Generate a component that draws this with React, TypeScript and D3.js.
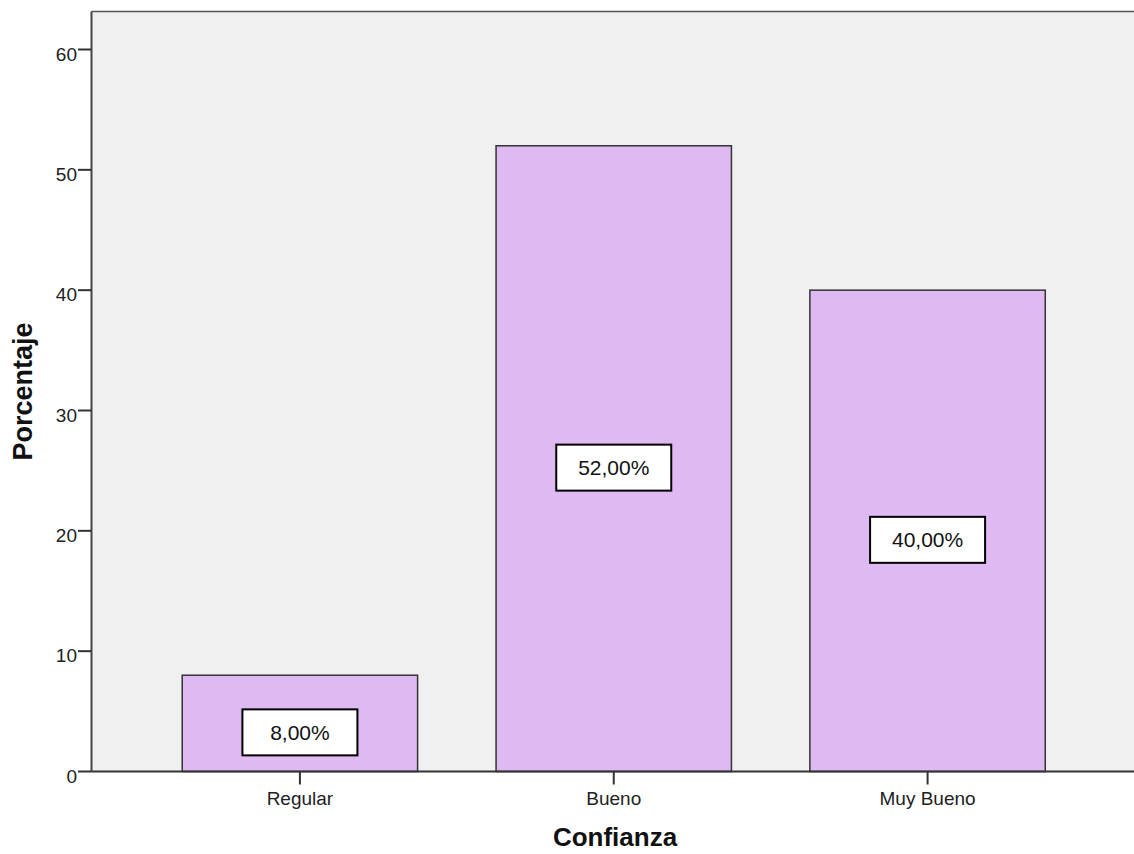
import React from "react";
import * as d3 from "d3";

const categories = ["Regular", "Bueno", "Muy Bueno"];
const percentages = [8, 52, 40];
const valueLabels = ["8,00%", "52,00%", "40,00%"];
const yTicks = [0, 10, 20, 30, 40, 50, 60];
const xTitle = "Confianza";
const yTitle = "Porcentaje";

const W = 1134;
const H = 854;
const plotLeft = 91.5;
const plotTop = 11.5;
const plotRight = 1134;
const plotBottom = 771.5;

export default function App() {
  const y = d3.scaleLinear().domain([0, 60]).range([plotBottom, 49.5]);
  const x = d3
    .scaleBand<string>()
    .domain(categories)
    .range([143, 1084.5])
    .paddingInner(0.25)
    .paddingOuter(0.125);
  const bw = x.bandwidth();
  const font = "'Liberation Sans', Arial, Helvetica, sans-serif";
  const boxW = 115;
  const boxH = 46;

  return (
    <svg
      width={W}
      height={H}
      style={{ position: "absolute", left: 0, top: 0, display: "block" }}
      fontFamily={font}
    >
      <rect x={0} y={0} width={W} height={H} fill="#ffffff" />
      <rect
        x={plotLeft}
        y={plotTop}
        width={plotRight - plotLeft}
        height={plotBottom - plotTop}
        fill="#f0f0f0"
      />
      <line x1={plotLeft} x2={plotRight} y1={plotTop} y2={plotTop} stroke="#555" strokeWidth={1.5} />

      {categories.map((c, i) => (
        <rect
          key={c}
          x={x(c)}
          y={y(percentages[i])}
          width={bw}
          height={y(0) - y(percentages[i])}
          fill="#dfb9f2"
          stroke="#333"
          strokeWidth={1.5}
        />
      ))}

      {categories.map((c, i) => {
        const cx = (x(c) as number) + bw / 2;
        const cy = y(percentages[i] / 2) + 9;
        return (
          <g key={"lbl" + c}>
            <rect
              x={cx - boxW / 2}
              y={cy - boxH / 2}
              width={boxW}
              height={boxH}
              fill="#ffffff"
              stroke="#000"
              strokeWidth={2}
            />
            <text x={cx} y={cy + 7.5} textAnchor="middle" fontSize={21} fill="#111">
              {valueLabels[i]}
            </text>
          </g>
        );
      })}

      <line x1={plotLeft} x2={plotLeft} y1={plotTop} y2={plotBottom} stroke="#444" strokeWidth={2} />
      <line x1={plotLeft} x2={plotRight} y1={plotBottom} y2={plotBottom} stroke="#333" strokeWidth={2} />

      {yTicks.map((t) => (
        <g key={"yt" + t}>
          <line x1={78} x2={plotLeft} y1={y(t)} y2={y(t)} stroke="#333" strokeWidth={2} />
          <text x={77} y={y(t) + 11} textAnchor="end" fontSize={19} fill="#222">
            {t}
          </text>
        </g>
      ))}

      {categories.map((c) => {
        const cx = (x(c) as number) + bw / 2;
        return (
          <g key={"xt" + c}>
            <line x1={cx} x2={cx} y1={plotBottom} y2={plotBottom + 13} stroke="#333" strokeWidth={2} />
            <text x={cx} y={805} textAnchor="middle" fontSize={19} fill="#222">
              {c}
            </text>
          </g>
        );
      })}

      <text x={615} y={846} textAnchor="middle" fontSize={26} fontWeight="bold" fill="#111">
        {xTitle}
      </text>
      <text
        transform={`translate(32, ${(plotTop + plotBottom) / 2}) rotate(-90)`}
        textAnchor="middle"
        fontSize={27}
        fontWeight="bold"
        fill="#111"
      >
        {yTitle}
      </text>
    </svg>
  );
}
